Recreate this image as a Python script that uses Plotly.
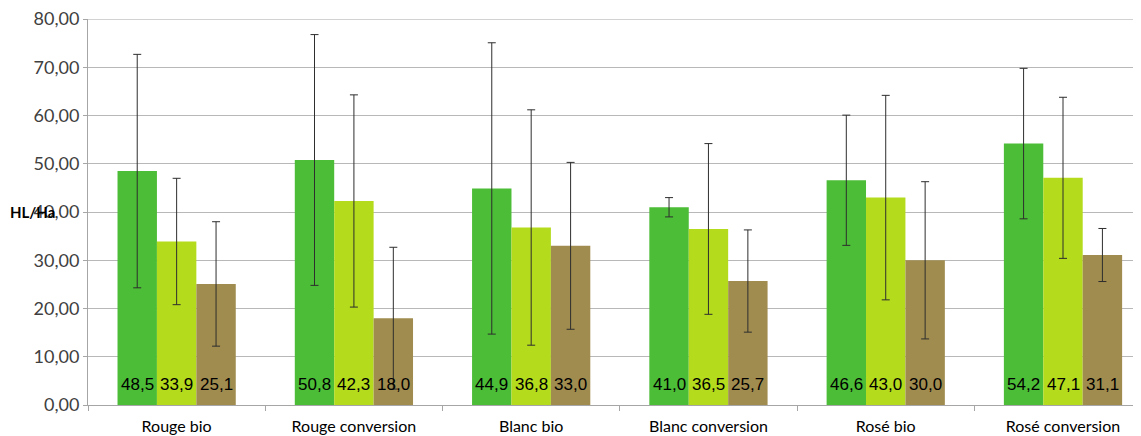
import plotly.graph_objects as go

categories = ["Rouge bio", "Rouge conversion", "Blanc bio", "Blanc conversion", "Rosé bio", "Rosé conversion"]
series1 = [48.5, 50.8, 44.9, 41.0, 46.6, 54.2]
series2 = [33.9, 42.3, 36.8, 36.5, 43.0, 47.1]
series3 = [25.1, 18.0, 33.0, 25.7, 30.0, 31.1]
err1 = [24.2, 26.0, 30.2, 2.0, 13.5, 15.6]
err2 = [13.1, 22.0, 24.4, 17.7, 21.2, 16.7]
err3 = [12.9, 14.7, 17.3, 10.6, 16.3, 5.5]
yticks = [0, 10, 20, 30, 40, 50, 60, 70, 80]
ytick_text = ["0,00", "10,00", "20,00", "30,00", "40,00", "50,00", "60,00", "70,00", "80,00"]

colors = ["#4CBD37", "#B4DB1C", "#A08C4F"]
series = [series1, series2, series3]
errs = [err1, err2, err3]

W, H = 1141, 436
ML, MR, MT, MB = 80, 8, 11, 39
plot_w = W - ML - MR
x_lo, x_hi = -0.5, 5.44
cat_px = plot_w / (x_hi - x_lo)
bargap = 0.333
bar_px = cat_px * (1 - bargap) / 3

fig = go.Figure()
annotations = []
for i, (vals, e, c) in enumerate(zip(series, errs, colors)):
    fig.add_trace(go.Bar(
        x=categories, y=vals, marker=dict(color=c, line=dict(width=0)),
        error_y=dict(type="data", array=e, visible=True, color="#2E2E2E", thickness=1, width=4),
        showlegend=False,
    ))
    for cat, v in zip(categories, vals):
        annotations.append(dict(
            text=f"{v:.1f}".replace(".", ","), xref="x", yref="y", x=cat, y=0,
            xanchor="center", yanchor="bottom", yshift=9, xshift=(i - 1) * bar_px,
            showarrow=False,
            font=dict(family="Liberation Sans, Arial", size=17, color="#000000"),
        ))

annotations.append(dict(
    text="<b>HL/Ha</b>", xref="paper", yref="y", x=-ML / plot_w, y=40,
    xanchor="left", yanchor="middle", showarrow=False,
    font=dict(family="Lato, Open Sans, sans-serif", size=15, color="#000000"),
))

fig.update_layout(
    width=W, height=H,
    margin=dict(l=ML, r=MR, t=MT, b=MB, autoexpand=False),
    paper_bgcolor="white", plot_bgcolor="white",
    barmode="group", bargap=bargap, bargroupgap=0,
    xaxis=dict(
        type="category", range=[x_lo, x_hi],
        showline=True, linecolor="#A6A6A6", linewidth=1,
        ticks="outside", tickson="boundaries", ticklen=5, tickcolor="#A6A6A6",
        tickfont=dict(family="Lato, Open Sans, sans-serif", size=16, color="#000000"),
        ticklabelstandoff=7,
        showgrid=False,
    ),
    yaxis=dict(
        range=[0, 80.03], tickvals=yticks, ticktext=ytick_text,
        showline=True, linecolor="#A6A6A6", linewidth=1,
        ticks="outside", ticklen=4, tickcolor="#A6A6A6",
        tickfont=dict(family="Lato, Open Sans, sans-serif", size=18, color="#404040"),
        ticklabeloverflow="allow",
        showgrid=True, gridcolor="#B8B8B8", gridwidth=1, zeroline=False,
    ),
    shapes=[dict(type="line", xref="paper", yref="y", x0=0, x1=1, y0=yticks[-1], y1=yticks[-1],
                 line=dict(color="#B8B8B8", width=1), layer="below")],
    annotations=annotations,
)

fig.write_html("out.html")
